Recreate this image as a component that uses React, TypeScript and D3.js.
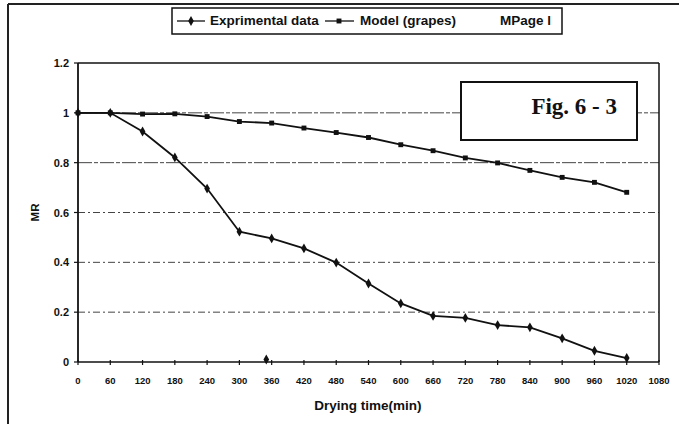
import * as d3 from "d3";

// drying time (min) at each measurement
const time = [0, 60, 120, 180, 240, 300, 360, 420, 480, 540, 600, 660, 720, 780, 840, 900, 960, 1020];
const experimental = [1, 1.0, 0.925, 0.821, 0.696, 0.523, 0.496, 0.456, 0.399, 0.315, 0.235, 0.185, 0.177, 0.148, 0.139, 0.095, 0.045, 0.016];
const model = [1, 1.0, 0.995, 0.996, 0.985, 0.965, 0.959, 0.939, 0.921, 0.901, 0.872, 0.848, 0.819, 0.799, 0.769, 0.741, 0.721, 0.681];
// lone marker left on the baseline
const strayTime = [350];
const strayMR = [0.01];

const xTicks = [0, 60, 120, 180, 240, 300, 360, 420, 480, 540, 600, 660, 720, 780, 840, 900, 960, 1020, 1080];
const yTicks = [0, 0.2, 0.4, 0.6, 0.8, 1, 1.2];

const W = 679, H = 424;
const margin = { left: 78, right: 20, top: 63, bottom: 62 };
const font = "Arial, 'Liberation Sans', sans-serif";

const x = d3.scaleLinear().domain([0, 1080]).range([margin.left, W - margin.right]);
const y = d3.scaleLinear().domain([0, 1.2]).range([H - margin.bottom, margin.top]);

const line = d3.line<number>()
    .x((d, i) => x(time[i]))
    .y(d => y(d));

const diamond = d3.symbol().type(d3.symbolDiamond).size(28)();
const square = d3.symbol().type(d3.symbolSquare).size(24)();

const App = () => {
    const x0 = x(0), x1 = x(1080), yb = y(0), yt = y(1.2);
    return (
        <svg width={W} height={H} style={{ position: "absolute", left: 0, top: 0, background: "white" }}>
            {/* page edge */}
            <line x1={8} x2={W} y1={4} y2={4} stroke="#222" strokeWidth={2} />
            <line x1={8} x2={8} y1={4} y2={H} stroke="#222" strokeWidth={2} />

            {/* grid */}
            {yTicks.filter(t => t > 0 && t < 1.2).map(t => (
                <line key={t} x1={x0} x2={x1} y1={y(t)} y2={y(t)}
                    stroke="#444" strokeWidth={1} strokeDasharray={t === 1 || t === 0.8 ? "14,2,4,2" : "7,3,2,3"} />
            ))}

            {/* plot frame */}
            <line x1={x0} x2={x1} y1={yt} y2={yt} stroke="#111" strokeWidth={1.3} />
            <line x1={x1} x2={x1} y1={yt} y2={yb} stroke="#111" strokeWidth={1.5} />
            <line x1={x0} x2={x1} y1={yb} y2={yb} stroke="#111" strokeWidth={1.5} />
            <line x1={x0} x2={x0} y1={yt} y2={yb} stroke="#111" strokeWidth={1.8} />

            {xTicks.map(t => (
                <g key={t}>
                    <line x1={x(t)} x2={x(t)} y1={yb - 2} y2={yb + 3} stroke="#111" strokeWidth={1.2} />
                    <text x={x(t)} y={yb + 22} textAnchor="middle" fontFamily={font} fontWeight="bold" fontSize={9.5} fill="#111">{t}</text>
                </g>
            ))}
            {yTicks.map(t => (
                <g key={t}>
                    <line x1={x0 - 4} x2={x0} y1={y(t)} y2={y(t)} stroke="#111" strokeWidth={1.2} />
                    <text x={x0 - 9} y={y(t) + 4} textAnchor="end" fontFamily={font} fontWeight="bold" fontSize={11} fill="#111">{t}</text>
                </g>
            ))}

            <text transform={`translate(39,${y(0.6)}) rotate(-90)`} textAnchor="middle" fontFamily={font} fontWeight="bold" fontSize={11.5} fill="#111">MR</text>
            <text x={368} y={410} textAnchor="middle" fontFamily={font} fontWeight="bold" fontSize={13.5} fill="#111">Drying time(min)</text>

            {/* series */}
            <path d={line(model) ?? ""} fill="none" stroke="#111" strokeWidth={1.8} />
            <path d={line(experimental) ?? ""} fill="none" stroke="#111" strokeWidth={1.8} />
            {model.map((d, i) => (
                <path key={"m" + i} d={square} transform={`translate(${x(time[i])},${y(d)})`} fill="#111" />
            ))}
            {experimental.map((d, i) => (
                <path key={"e" + i} d={diamond} transform={`translate(${x(time[i])},${y(d)})`} fill="#111" />
            ))}
            {strayMR.map((d, i) => (
                <path key={"s" + i} d={diamond} transform={`translate(${x(strayTime[i])},${y(d)})`} fill="#111" />
            ))}

            {/* figure label */}
            <rect x={461} y={82} width={176} height={58} fill="white" stroke="#111" strokeWidth={2} />
            <text x={617} y={114} textAnchor="end" fontFamily="'Liberation Serif', 'Times New Roman', serif" fontWeight="bold" fontSize={23} fill="#111">Fig. 6 - 3</text>

            {/* legend */}
            <rect x={172} y={8} width={390} height={26} fill="white" stroke="#111" strokeWidth={1.5} />
            <line x1={177} x2={205} y1={21} y2={21} stroke="#111" strokeWidth={1.3} />
            <path d={diamond} transform="translate(191,21)" fill="#111" />
            <text x={210} y={25} fontFamily={font} fontWeight="bold" fontSize={13.5} fill="#111">Exprimental data</text>
            <line x1={325} x2={354} y1={21} y2={21} stroke="#111" strokeWidth={1.3} />
            <path d={square} transform="translate(339,21)" fill="#111" />
            <text x={360} y={25} fontFamily={font} fontWeight="bold" fontSize={13.5} fill="#111">Model (grapes)</text>
            <text x={500} y={25} fontFamily={font} fontWeight="bold" fontSize={13.5} fill="#111">MPage l</text>
        </svg>
    );
};

export default App;
